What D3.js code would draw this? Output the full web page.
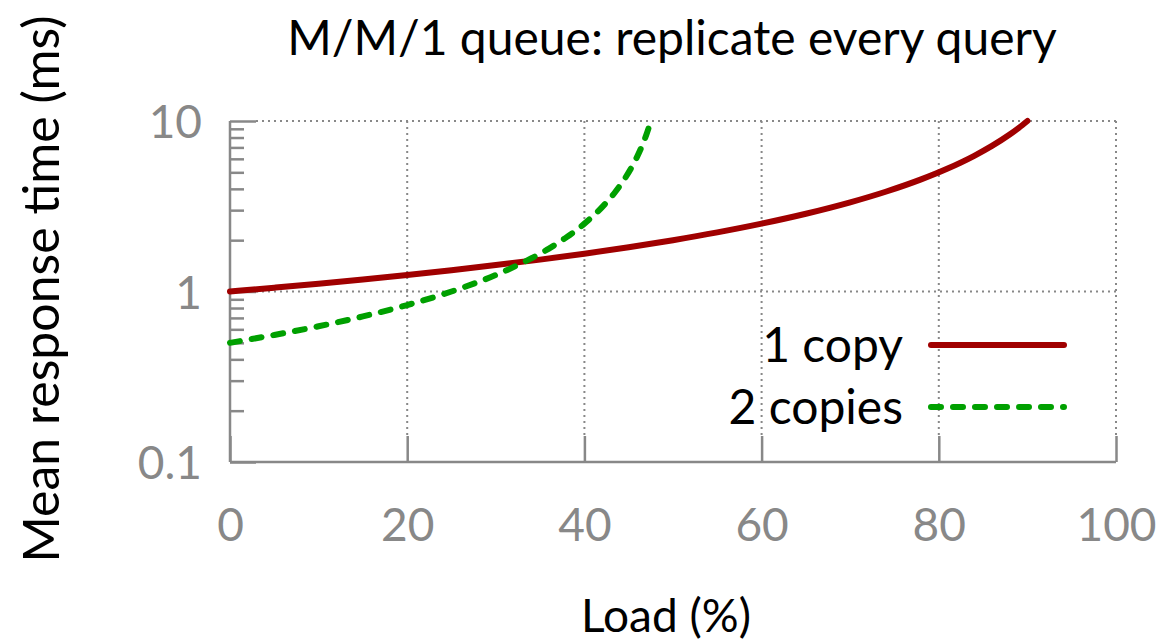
<!DOCTYPE html>
<html><head><meta charset="utf-8">
<script src="https://cdn.jsdelivr.net/npm/d3@7"></script>
<style>
html,body{margin:0;padding:0;background:#fff;}
svg text{font-family:Lato,"Open Sans",sans-serif;}
</style></head>
<body>
<svg id="chart" width="1171" height="643"></svg>
<script>
// Data
const load1 = [0,5,10,15,20,25,30,35,40,45,50,55,60,65,70,74,78,81,84,86,88,89,90];
const resp1 = [1,1.053,1.111,1.176,1.25,1.333,1.429,1.538,1.667,1.818,2,2.222,2.5,2.857,3.333,3.846,4.545,5.263,6.25,7.143,8.333,9.091,10];
const load2 = [0,5,10,15,20,25,30,33.3,36,38,40,42,43.5,44.5,45.5,46.3,47,47.5];
const resp2 = [0.5,0.556,0.625,0.714,0.833,1,1.25,1.5,1.786,2.083,2.5,3.125,3.846,4.545,5.556,6.757,8.333,10];
const xTicks = [0,20,40,60,80,100];
const yTicks = [0.1,1,10];
const seriesNames = ["1 copy","2 copies"];
const seriesColors = ["#a00000","#00a000"];

const svg = d3.select("#chart");
const grey = "#888888";
const x = d3.scaleLinear().domain([0,100]).range([230,1116]);
const y = d3.scaleLog().domain([0.1,10]).range([462,121]);

// grid (dotted)
const grid = svg.append("g");
xTicks.filter(d=>d>0).forEach(d=>{
  grid.append("line").attr("x1",x(d)).attr("x2",x(d)).attr("y1",y(10)).attr("y2",y(0.1)-26)
    .attr("stroke",grey).attr("stroke-width",2).attr("stroke-dasharray","2,4");
});
yTicks.filter(d=>d>0.1).forEach(d=>{
  grid.append("line").attr("x1",x(0)+26).attr("x2",x(100)).attr("y1",y(d)).attr("y2",y(d))
    .attr("stroke",grey).attr("stroke-width",2).attr("stroke-dasharray","2,4");
});

// axes
const xAxis = d3.axisBottom(x).tickValues(xTicks).tickSize(-26).tickPadding(46).tickFormat(d3.format("d"));
const gx = svg.append("g").attr("transform",`translate(0,${y(0.1)})`).call(xAxis);
gx.select(".domain").attr("stroke",grey).attr("stroke-width",2.5).attr("d",`M${x(0)},0H${x(100)}`);
gx.selectAll(".tick line").attr("stroke",grey).attr("stroke-width",2.5);
gx.selectAll(".tick text").attr("fill",grey).attr("font-size",46).attr("font-family","Lato,sans-serif");

const minor = [];
[0.1,1].forEach(b=>{for(let k=2;k<=9;k++) minor.push(b*k);});
const yAxisMinor = d3.axisRight(y).tickValues(minor).tickSize(14).tickFormat("");
const gym = svg.append("g").attr("transform",`translate(${x(0)},0)`).call(yAxisMinor);
gym.select(".domain").remove();
gym.selectAll(".tick line").attr("stroke",grey).attr("stroke-width",2.5);

const yAxis = d3.axisLeft(y).tickValues(yTicks).tickSize(-26).tickPadding(28).tickFormat(d=>d3.format("~g")(d));
const gy = svg.append("g").attr("transform",`translate(${x(0)},0)`).call(yAxis);
gy.select(".domain").attr("stroke",grey).attr("stroke-width",2.5).attr("d",`M0,${y(0.1)}V${y(10)}`);
gy.selectAll(".tick line").attr("stroke",grey).attr("stroke-width",2.5);
gy.selectAll(".tick text").attr("fill",grey).attr("font-size",46).attr("dy","0.36em").attr("font-family","Lato,sans-serif");

// lines
const line = d3.line().x(d=>x(d[0])).y(d=>y(d[1])).curve(d3.curveMonotoneX);
svg.append("path").datum(load1.map((l,i)=>[l,resp1[i]])).attr("d",line)
  .attr("fill","none").attr("stroke",seriesColors[0]).attr("stroke-width",6).attr("stroke-linecap","round");
svg.append("path").datum(load2.map((l,i)=>[l,resp2[i]])).attr("d",line)
  .attr("fill","none").attr("stroke",seriesColors[1]).attr("stroke-width",6).attr("stroke-linecap","round")
  .attr("stroke-dasharray","10,12");

// legend
const legY = [345,407];
seriesNames.forEach((n,i)=>{
  svg.append("text").attr("x",903).attr("y",legY[i]).attr("dy","0.36em").attr("text-anchor","end")
    .attr("font-size",48).attr("fill","#000").text(n);
  svg.append("line").attr("x1",931).attr("x2",1064).attr("y1",legY[i]).attr("y2",legY[i])
    .attr("stroke",seriesColors[i]).attr("stroke-width",6).attr("stroke-linecap","round")
    .attr("stroke-dasharray",i?"10,12":null);
});

// titles
svg.append("text").attr("x",672).attr("y",55).attr("text-anchor","middle").attr("font-size",48)
  .attr("fill","#000").text("M/M/1 queue: replicate every query");
svg.append("text").attr("x",666).attr("y",632).attr("text-anchor","middle").attr("font-size",46)
  .attr("fill","#000").text("Load (%)");
svg.append("text").attr("transform","translate(59,289) rotate(-90)").attr("text-anchor","middle").attr("font-size",50)
  .attr("fill","#000").text("Mean response time (ms)");
</script>
</body></html>
